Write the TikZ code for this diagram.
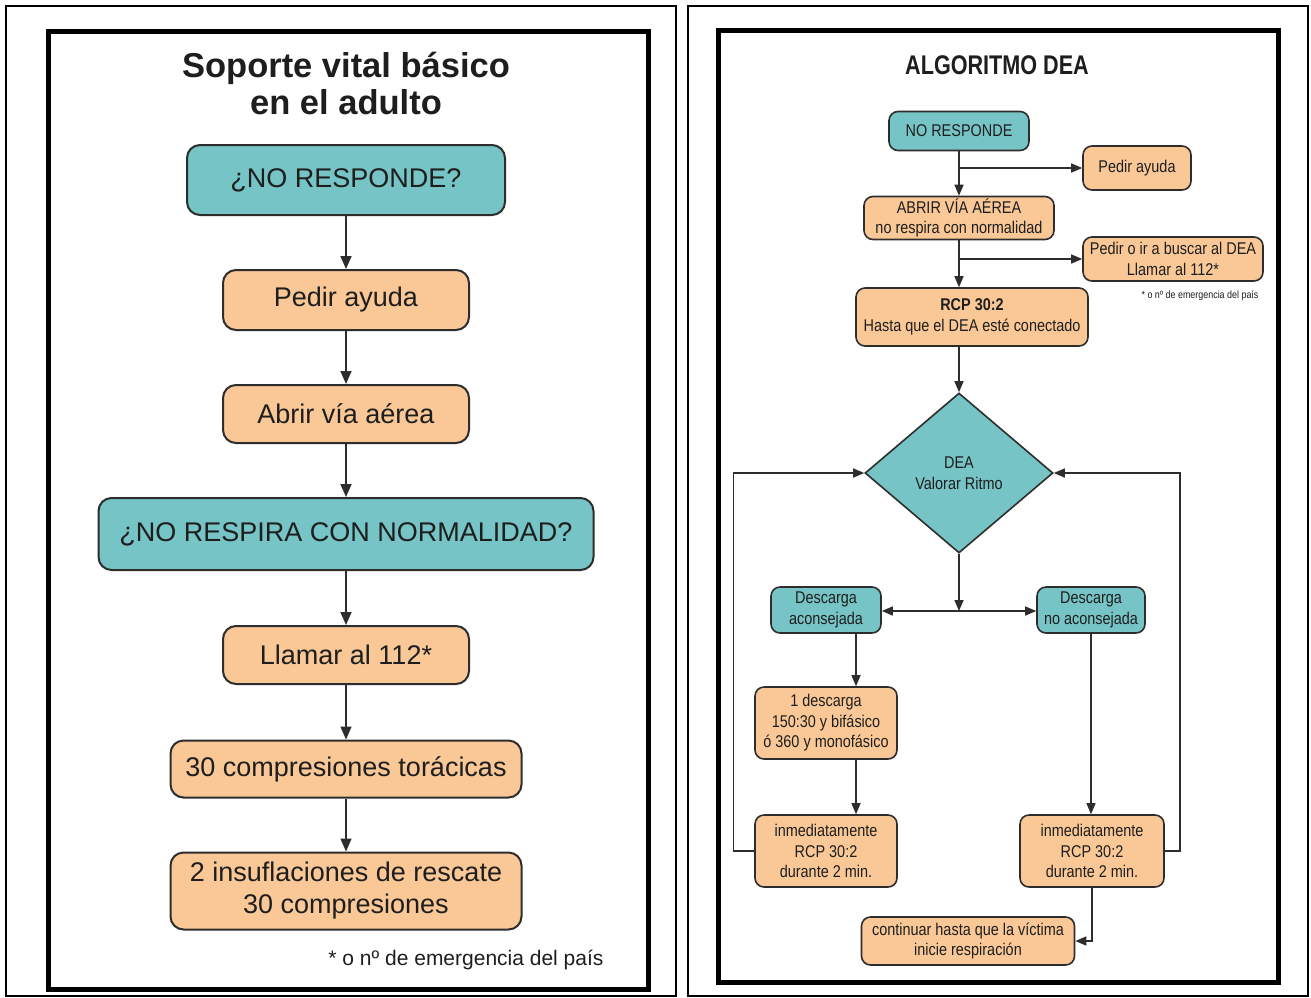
\documentclass[tikz,border=0pt]{standalone}
\usepackage{fontspec}
\setmainfont{Liberation Sans}
\newfontfamily\fA{Liberation Sans}
\newfontfamily\fN[FakeStretch=0.85]{Liberation Sans}
\newfontfamily\fT[FakeStretch=0.8]{Liberation Sans}
\usetikzlibrary{shapes.geometric,arrows.meta}
\definecolor{tealc}{RGB}{118,196,197}
\definecolor{peach}{RGB}{249,200,150}
\definecolor{edge}{RGB}{45,45,45}
\definecolor{txt}{RGB}{30,30,30}
\tikzset{
  boxL/.style={draw=edge, line width=2pt, rounded corners=13pt, align=center, inner sep=0pt, text=txt, font=\fA\fontsize{27}{32}\selectfont},
  boxR/.style={draw=edge, line width=1.6pt, rounded corners=9pt, align=center, inner sep=0pt, text=txt, font=\fN\fontsize{17}{20.5}\selectfont},
  tl/.style={fill=tealc},
  pc/.style={fill=peach},
  conn/.style={line width=1.6pt, draw=edge, -{Triangle[length=13pt,width=11pt]}},
  connR/.style={line width=1.4pt, draw=edge, -{Triangle[length=11pt,width=9pt]}},
  line/.style={line width=1.4pt, draw=edge},
}
\begin{document}
\begin{tikzpicture}[x=1pt,y=-1pt]
\useasboundingbox (0,0) rectangle (1311,997);
\fill[white] (0,0) rectangle (1311,997);
% frames
\draw[line width=1.3pt] (6,6) rectangle (676,996);
\draw[line width=1.3pt] (688,6) rectangle (1308,996);
\draw[line width=5pt] (48,31) rectangle (648,989);
\draw[line width=5pt] (718,30) rectangle (1278,982);

% ---------- left panel ----------
\node[align=center, text=txt, font=\fA\bfseries\fontsize{34.5}{37}\selectfont] (tit1) at (346,84) {Soporte vital básico\\en el adulto};
\node[boxL,tl,minimum width=318pt,minimum height=70pt] (nr) at (346,180) {¿NO RESPONDE?};
\node[boxL,pc,minimum width=246pt,minimum height=60pt] (pa) at (346,300) {Pedir ayuda};
\node[boxL,pc,minimum width=246pt,minimum height=58pt] (av) at (346,414) {Abrir vía aérea};
\node[boxL,tl,minimum width=495pt,minimum height=72pt] (nrc) at (346,534) {¿NO RESPIRA CON NORMALIDAD?};
\node[boxL,pc,minimum width=246pt,minimum height=58pt] (ll) at (346,655) {Llamar al 112*};
\node[boxL,pc,minimum width=351pt,minimum height=57pt] (c30) at (346,769) {30 compresiones torácicas};
\node[boxL,pc,minimum width=351pt,minimum height=77pt] (ins) at (346,891) {2 insuflaciones de rescate\\30 compresiones};
\node[anchor=east, text=txt, font=\fA\fontsize{21}{24}\selectfont] (fn1) at (607,960) {* o nº de emergencia del país};

\draw[conn] (nr) -- (pa);
\draw[conn] (pa) -- (av);
\draw[conn] (av) -- (nrc);
\draw[conn] (nrc) -- (ll);
\draw[conn] (ll) -- (c30);
\draw[conn] (c30) -- (ins);

% ---------- right panel ----------
\node[text=txt, font=\fT\bfseries\fontsize{27}{30}\selectfont] (tit2) at (997,65) {ALGORITMO DEA};
\node[boxR,tl,minimum width=140pt,minimum height=39pt] (nrR) at (959,131) {NO RESPONDE};
\node[boxR,pc,minimum width=108pt,minimum height=44pt] (pa2) at (1137,168) {Pedir ayuda};
\node[boxR,pc,minimum width=190pt,minimum height=43pt] (ab) at (959,218) {ABRIR VÍA AÉREA\\no respira con normalidad};
\node[boxR,pc,minimum width=180pt,minimum height=44pt] (pd) at (1173,259) {Pedir o ir a buscar al DEA\\Llamar al 112*};
\node[text=txt, font=\fN\fontsize{10.5}{12}\selectfont] (fn2) at (1200,296) {* o nº de emergencia del país};
\node[boxR,pc,minimum width=232pt,minimum height=58pt] (rcp) at (972,317) {\textbf{RCP 30:2}\\Hasta que el DEA esté conectado};
\node[draw=edge, line width=1.6pt, fill=tealc, diamond, inner sep=0pt, minimum width=188pt, minimum height=160pt, align=center, text=txt, font=\fN\fontsize{17}{20.5}\selectfont] (dia) at (959,473) {DEA\\Valorar Ritmo};
\node[boxR,tl,minimum width=110pt,minimum height=46pt] (da) at (826,610) {Descarga\\aconsejada};
\node[boxR,tl,minimum width=108pt,minimum height=46pt] (dna) at (1091,610) {Descarga\\no aconsejada};
\node[boxR,pc,minimum width=142pt,minimum height=72pt] (d1) at (826,723) {1 descarga\\150:30 y bifásico\\ó 360 y monofásico};
\node[boxR,pc,minimum width=142pt,minimum height=72pt] (inL) at (826,851) {inmediatamente\\RCP 30:2\\durante 2 min.};
\node[boxR,pc,minimum width=144pt,minimum height=72pt] (inR) at (1092,851) {inmediatamente\\RCP 30:2\\durante 2 min.};
\node[boxR,pc,minimum width=213pt,minimum height=48pt] (cont) at (968,941) {continuar hasta que la víctima\\inicie respiración};

\coordinate (j) at (959,611);
\draw[connR] (nrR.south) -- (nrR.south |- ab.north);
\draw[connR] (nrR.south |- pa2.west) -- (pa2.west);
\draw[connR] (ab.south) -- (ab.south |- rcp.north);
\draw[connR] (ab.south |- pd.west) -- (pd.west);
\draw[connR] (dia.north |- rcp.south) -- (dia.north);
\draw[connR] (dia.south) -- (j);
\draw[line, {Triangle[length=11pt,width=9pt]}-{Triangle[length=11pt,width=9pt]}] (da.east |- j) -- (dna.west |- j);
\draw[connR] ([xshift=30pt]da.south) -- ([xshift=30pt]da.south |- d1.north);
\draw[connR] ([xshift=30pt]d1.south) -- ([xshift=30pt]d1.south |- inL.north);
\draw[connR] (inL.west) -- ++(-21,0) |- (dia.west);
\draw[connR] (dna.south) -- (dna.south |- inR.north);
\draw[connR] (inR.east) -- ++(15,0) |- (dia.east);
\draw[connR] (inR.south) |- (cont.east);
\end{tikzpicture}
\end{document}
